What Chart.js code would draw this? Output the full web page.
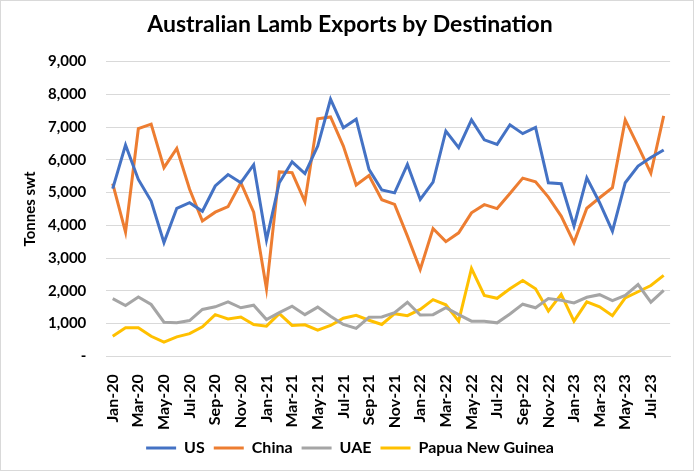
<!DOCTYPE html>
<html>
<head>
<meta charset="utf-8">
<script src="https://cdn.jsdelivr.net/npm/chart.js@4.4.0/dist/chart.umd.min.js"></script>
<style>
  html, body { margin: 0; padding: 0; background: #fff; }
  #wrap { position: relative; width: 692px; height: 469px; border: 1px solid #d9d9d9; }
</style>
</head>
<body>
<div id="wrap"><canvas id="lamb" width="692" height="469"></canvas></div>
<script>
// monthly lamb export volumes, tonnes swt
const months = ['Jan-20','Feb-20','Mar-20','Apr-20','May-20','Jun-20','Jul-20','Aug-20','Sep-20','Oct-20','Nov-20','Dec-20',
  'Jan-21','Feb-21','Mar-21','Apr-21','May-21','Jun-21','Jul-21','Aug-21','Sep-21','Oct-21','Nov-21','Dec-21',
  'Jan-22','Feb-22','Mar-22','Apr-22','May-22','Jun-22','Jul-22','Aug-22','Sep-22','Oct-22','Nov-22','Dec-22',
  'Jan-23','Feb-23','Mar-23','Apr-23','May-23','Jun-23','Jul-23','Aug-23'];

const us = [5120, 6450, 5400, 4740, 3470, 4520, 4690, 4430, 5200, 5550, 5300, 5850,
  3550, 5300, 5940, 5580, 6420, 7850, 6980, 7240, 5710, 5080, 4990, 5860,
  4790, 5320, 6880, 6370, 7220, 6610, 6470, 7070, 6800, 6990, 5300, 5270,
  3980, 5450, 4690, 3820, 5300, 5810, 6070, 6300];

const china = [5270, 3790, 6950, 7090, 5760, 6350, 5100, 4130, 4400, 4570, 5300, 4400,
  2060, 5630, 5610, 4720, 7250, 7310, 6420, 5230, 5520, 4780, 4640, 3670,
  2650, 3900, 3500, 3770, 4380, 4630, 4510, 4970, 5440, 5330, 4860, 4280,
  3470, 4520, 4840, 5150, 7220, 6420, 5590, 7340];

const uae = [1760, 1550, 1810, 1580, 1040, 1020, 1090, 1430, 1510, 1660, 1480, 1560,
  1120, 1330, 1530, 1270, 1500, 1220, 970, 850, 1190, 1200, 1330, 1650,
  1260, 1270, 1480, 1270, 1070, 1070, 1020, 1290, 1590, 1480, 1760, 1710,
  1630, 1800, 1880, 1700, 1860, 2190, 1650, 2010];

const png = [610, 870, 870, 610, 430, 590, 690, 900, 1270, 1140, 1200, 970,
  920, 1300, 940, 960, 800, 940, 1160, 1250, 1100, 970, 1300, 1240,
  1430, 1730, 1570, 1070, 2680, 1860, 1770, 2060, 2310, 2060, 1380, 1890,
  1070, 1660, 1510, 1240, 1780, 1970, 2160, 2470];

const yTicks = [0, 1000, 2000, 3000, 4000, 5000, 6000, 7000, 8000, 9000];

const font = 'Lato, "Open Sans", sans-serif';
Chart.defaults.font.family = font;
Chart.defaults.color = '#000';

function series(label, data, color) {
  return {
    label: label,
    data: data,
    borderColor: color,
    backgroundColor: color,
    borderWidth: 3,
    pointRadius: 0,
    tension: 0,
    fill: false
  };
}

new Chart(document.getElementById('lamb'), {
  type: 'line',
  data: {
    labels: months,
    datasets: [
      series('US', us, '#4472C4'),
      series('China', china, '#ED7D31'),
      series('UAE', uae, '#A5A5A5'),
      series('Papua New Guinea', png, '#FFC000')
    ]
  },
  options: {
    responsive: false,
    animation: false,
    layout: { padding: { left: 16, right: 10, top: 6, bottom: 4 } },
    plugins: {
      title: {
        display: true,
        text: 'Australian Lamb Exports by Destination',
        font: { size: 23, weight: 'bold' },
        padding: { top: 4, bottom: 23 }
      },
      legend: {
        position: 'bottom',
        labels: {
          usePointStyle: true,
          pointStyle: 'line',
          pointStyleWidth: 30,
          boxWidth: 30,
          padding: 9,
          font: { size: 16, weight: 'bold' }
        }
      },
      tooltip: { enabled: false }
    },
    scales: {
      x: {
        offset: true,
        grid: { display: false },
        border: { color: '#d9d9d9' },
        afterFit: function (axis) { axis.height -= 9; },
        ticks: {
          autoSkip: false,
          maxRotation: 90,
          minRotation: 90,
          padding: 10,
          font: { size: 16, weight: 'bold' },
          callback: function (v, i) { return i % 2 === 0 ? months[i] : ''; }
        }
      },
      y: {
        min: 0,
        max: 9000,
        afterBuildTicks: function (axis) { axis.ticks = yTicks.map(v => ({ value: v })); },
        afterFit: function (axis) { axis.width -= 21; },
        grid: { color: '#d9d9d9', lineWidth: 1, drawTicks: false },
        border: { display: false },
        title: {
          display: true,
          text: 'Tonnes swt',
          font: { size: 15, weight: 'bold' },
          padding: { bottom: 10 }
        },
        ticks: {
          padding: 20,
          font: { size: 15, weight: 'bold' },
          callback: function (v) { return v === 0 ? '-' : v.toLocaleString('en-US'); }
        }
      }
    }
  }
});
</script>
</body>
</html>
